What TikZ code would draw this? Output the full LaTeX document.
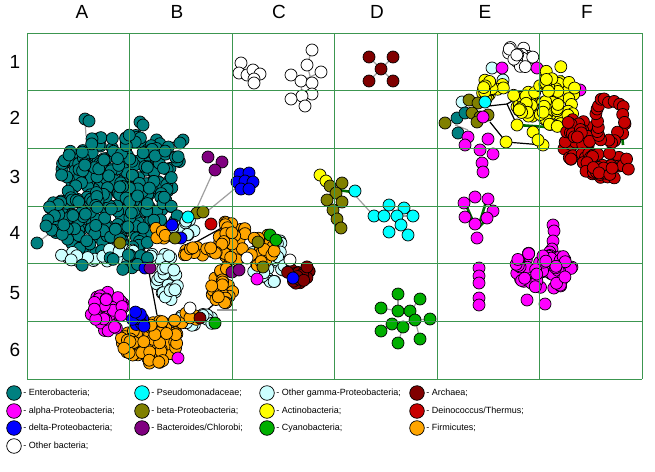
\documentclass[tikz,border=0pt]{standalone}
\usepackage{fontspec}
\setmainfont{Liberation Sans}
\usepackage{xcolor}
\usetikzlibrary{positioning}

\definecolor{entero}{RGB}{0,128,128}
\definecolor{alphap}{RGB}{255,0,255}
\definecolor{deltap}{RGB}{0,0,255}
\definecolor{pseudo}{RGB}{0,255,255}
\definecolor{betap}{RGB}{128,128,0}
\definecolor{bactero}{RGB}{128,0,128}
\definecolor{ogamma}{RGB}{204,255,255}
\definecolor{actino}{RGB}{255,255,0}
\definecolor{cyano}{RGB}{0,175,0}
\definecolor{archaea}{RGB}{128,0,0}
\definecolor{deino}{RGB}{200,0,0}
\definecolor{firmi}{RGB}{255,165,0}
\definecolor{gridgreen}{RGB}{60,150,80}
\definecolor{linkgreen}{RGB}{0,110,0}

\tikzset{
	bac/.style={draw=black,line width=0.7pt},
	weak/.style={draw=gray!75,line width=1.2pt},
	strong/.style={draw=black,line width=1.2pt},
	heavy/.style={draw=linkgreen,line width=2.6pt},
	gridline/.style={draw=gridgreen,line width=1pt},
	head/.style={font=\fontsize{19}{22}\selectfont},
	keydot/.style={circle,draw=black,line width=0.7pt,minimum size=14.6pt,inner sep=0pt},
	key/.style={anchor=west,inner sep=0pt,font=\fontsize{9}{10}\selectfont},
}

% a random cloud of organisms: centre x, centre y, radius x, radius y, count, colour
\newcommand{\bacblob}[6]{%
	\foreach \k in {1,...,#5}{
		\pgfmathsetmacro\bang{360*rnd}
		\pgfmathsetmacro\brad{sqrt(rnd)}
		\draw[bac,fill=#6] ({#1+#3*\brad*cos(\bang)},{#2+#4*\brad*sin(\bang)}) circle (6);
	}}
% a ring of organisms: centre x, centre y, radius x, radius y, count, colour
\newcommand{\bacring}[6]{%
	\foreach \k in {1,...,#5}{
		\pgfmathsetmacro\bang{360*\k/#5}
		\draw[bac,fill=#6] ({#1+#3*cos(\bang)+3*rand},{#2+#4*sin(\bang)+3*rand}) circle (6);
	}}

\begin{document}
\begin{tikzpicture}[x=1pt,y=-1pt]
		\useasboundingbox (0,0) rectangle (655,471);
		\pgfmathsetseed{4}
		
		% Link ends between clusters
		\coordinate (ent-top1) at (85,119);
		\coordinate (ent-top2) at (140,122);
		\coordinate (ent-right) at (183,140);
		\coordinate (ent-left) at (37,243);
		\coordinate (ent-body1) at (86,136);
		\coordinate (ent-body2) at (138,136);
		\coordinate (ent-body3) at (170,143);
		\coordinate (ent-body4) at (62,224);
		\coordinate (bact-b3) at (214,170);
		\coordinate (delta-c3) at (243,182);
		\coordinate (mix-b4a) at (195,212);
		\coordinate (mix-b4b) at (204,214);
		\coordinate (beta-d3) at (352,192);
		\coordinate (pseudo-d4) at (374,216);
		
		% Weak links (grey)
		\draw[weak] (ent-top1) -- (ent-body1);
		\draw[weak] (ent-top2) -- (ent-body2);
		\draw[weak] (ent-left) -- (ent-body4);
		\draw[weak] (bact-b3) -- (mix-b4a);
		\draw[weak] (delta-c3) -- (mix-b4b);
		\draw[weak] (beta-d3) -- (pseudo-d4);
		\draw[weak] (312,50) -- (307,65) -- (312,83) -- (312,94);
		\draw[weak] (291,75) -- (301,81) -- (321,72);
		\draw[weak] (301,81) -- (302,96);
		\foreach \x/\y in {369/57,393/57,369/81,393/81}
			\draw[weak] (381,69) -- (\x,\y);
		\draw[weak] (384,216) -- (397,216) -- (389,205);
		\draw[weak] (397,216) -- (404,208);
		\draw[weak] (397,216) -- (413,216);
		\draw[weak] (397,216) -- (401,225) -- (389,232);
		\draw[weak] (401,225) -- (408,235);
		\draw[weak] (398,294) -- (398,311);
		\draw[weak] (381,308) -- (398,311) -- (410,311) -- (420,299);
		\draw[weak] (410,311) -- (415,320) -- (430,319);
		\draw[weak] (415,320) -- (403,327) -- (392,324) -- (381,331);
		\draw[weak] (403,327) -- (398,343);
		\draw[weak] (415,320) -- (420,339);
		\draw[weak] (455,125) -- (468,130);
		\draw[weak] (217,310) -- (237,310);
		
		% Strong links (black)
		\draw[strong] (ent-body3) -- (ent-right);
		\draw[strong] (149,272) -- (157,315);
		\draw[strong] (187,247) -- (227,225);
		\draw[strong] (205,312) -- (228,292);
		\draw[strong] (470,108) -- (507,104) -- (517,125);
		\draw[strong] (490,122) -- (506,142) -- (543,145);
		\draw[strong] (507,104) -- (535,88);
		\draw[strong] (145,342) -- (162,330);
		
		% Heavy links (dark green)
		\draw[heavy] (338,190) -- (352,192);
		\draw[heavy] (148,350) -- (162,340);
		\draw[heavy] (466,205) -- (476,228);
		\draw[heavy] (486,202) -- (478,228);
		\draw[heavy] (492,214) -- (478,228);
		\draw[heavy] (517,125) -- (547,127);
		\draw[heavy] (547,86) -- (563,76);
		\draw[heavy] (598,112) -- (604,140);
		\draw[heavy] (620,116) -- (623,145);
		
		% Enterobacteria, A2--B4
		\bacblob{122}{168}{62}{34}{175}{entero}
		\bacblob{112}{218}{68}{36}{205}{entero}
		\foreach \x/\y in {85/119,89/121,140/122,143/125,183/140,180/143,48/220,46/226,37/243}
			\draw[bac,fill=entero] (\x,\y) circle (6);
		
		% Other gamma-Proteobacteria, B4--C5
		\bacblob{118}{256}{62}{7}{34}{ogamma}
		\bacblob{120}{263}{50}{9}{12}{entero}
		\bacblob{168}{285}{12}{18}{24}{ogamma}
		\bacblob{183}{228}{12}{10}{14}{ogamma}
		\bacblob{268}{258}{18}{26}{30}{ogamma}
		\bacblob{198}{320}{22}{7}{12}{ogamma}
		
		% Firmicutes, B4--C6
		\bacblob{232}{238}{14}{24}{38}{firmi}
		\bacblob{262}{250}{13}{17}{18}{firmi}
		\bacblob{200}{252}{18}{7}{14}{firmi}
		\bacblob{222}{287}{11}{21}{24}{firmi}
		\bacblob{161}{232}{7}{9}{6}{firmi}
		\bacblob{150}{342}{29}{23}{70}{firmi}
		\bacblob{183}{318}{16}{5}{7}{firmi}
		
		% Mixed organisms in the B4--C6 region
		\bacblob{298}{274}{12}{11}{18}{archaea}
		\bacblob{140}{318}{9}{13}{9}{deltap}
		\foreach \x/\y in {172/225,181/238,293/278,145/268}
			\draw[bac,fill=deltap] (\x,\y) circle (6);
		\foreach \x/\y in {120/243,175/238,258/242,263/267,197/213,203/212}
			\draw[bac,fill=betap] (\x,\y) circle (6);
		\foreach \x/\y in {232/272,239/270,150/268}
			\draw[bac,fill=bactero] (\x,\y) circle (6);
		\foreach \x/\y in {270/235,276/240,215/323}
			\draw[bac,fill=cyano] (\x,\y) circle (6);
		\foreach \x/\y in {247/258,290/260,190/308}
			\draw[bac,fill=white] (\x,\y) circle (6);
		\foreach \x/\y in {178/358,257/279}
			\draw[bac,fill=alphap] (\x,\y) circle (6);
		\draw[bac,fill=pseudo] (188,217) circle (6);
		\draw[bac,fill=deino] (211,224) circle (6);
		\draw[bac,fill=archaea] (200,318) circle (6);
		
		% Bacteroides/Chlorobi, B3 and delta-Proteobacteria, C3
		\foreach \x/\y in {208/157,222/162,215/170}
			\draw[bac,fill=bactero] (\x,\y) circle (6);
		\foreach \x/\y in {240/174,249/173,237/182,245/181,253/182,241/189,249/189}
			\draw[bac,fill=deltap] (\x,\y) circle (6);
		
		% alpha-Proteobacteria, A5
		\bacblob{108}{312}{17}{20}{40}{alphap}
		
		% Other bacteria, C1
		\foreach \x/\y in {241/63,239/73,247/75,253/70,260/74,254/79,254/83}
			\draw[bac,fill=white] (\x,\y) circle (6);
		\foreach \x/\y in {312/50,307/65,321/72,291/75,301/81,312/83,312/94,302/96,291/99,305/106}
			\draw[bac,fill=white] (\x,\y) circle (6);
		
		% Archaea, D1
		\foreach \x/\y in {369/57,393/57,381/69,369/81,393/81}
			\draw[bac,fill=archaea] (\x,\y) circle (6);
		
		% beta-Proteobacteria and Pseudomonadaceae, D3--D4
		\foreach \x/\y in {320/175,326/181}
			\draw[bac,fill=actino] (\x,\y) circle (6);
		\foreach \x/\y in {330/186,342/183,336/193,327/200,342/202,333/210,337/219,341/228}
			\draw[bac,fill=betap] (\x,\y) circle (6);
		\foreach \x/\y in {355/191,374/216,384/216,389/205,404/208,397/216,413/216,401/225,389/232,408/235}
			\draw[bac,fill=pseudo] (\x,\y) circle (6);
		
		% Cyanobacteria, D5
		\foreach \x/\y in {398/294,420/299,381/308,398/311,410/311,415/320,430/319,392/324,403/327,381/331,420/339,398/343}
			\draw[bac,fill=cyano] (\x,\y) circle (6);
		
		% E1--F3: other bacteria, Actinobacteria and Deinococcus/Thermus
		\bacblob{518}{58}{16}{12}{16}{white}
		\foreach \x/\y in {492/68,503/80,462/102}
			\draw[bac,fill=ogamma] (\x,\y) circle (6);
		\foreach \x/\y in {502/68,537/68,580/90}
			\draw[bac,fill=alphap] (\x,\y) circle (6);
		\bacblob{493}{88}{13}{14}{18}{actino}
		\bacblob{527}{103}{16}{15}{26}{actino}
		\bacblob{557}{98}{20}{32}{52}{actino}
		\foreach \x/\y in {517/125,506/142,543/145,533/132,538/140}
			\draw[bac,fill=actino] (\x,\y) circle (6);
		\bacblob{578}{140}{17}{22}{45}{deino}
		\bacring{609}{120}{14}{20}{22}{deino}
		\bacblob{606}{166}{24}{14}{36}{deino}
		
		% E2--E3: beta-Proteobacteria, Enterobacteria and alpha-Proteobacteria
		\foreach \x/\y in {457/118,465/113,458/133}
			\draw[bac,fill=entero] (\x,\y) circle (6);
		\foreach \x/\y in {445/123,469/100,478/103,472/113,480/117,488/115,477/122}
			\draw[bac,fill=betap] (\x,\y) circle (6);
		\draw[bac,fill=pseudo] (485,102) circle (6);
		\foreach \x/\y in {483/117,468/137,488/139,480/150,465/145,493/154,482/163,483/172}
			\draw[bac,fill=alphap] (\x,\y) circle (6);
		
		% alpha-Proteobacteria, E4, E5 and F4--F5
		\foreach \x/\y in {475/197,488/199,464/203,493/211,465/217,487/218,475/224,477/238}
			\draw[bac,fill=alphap] (\x,\y) circle (6);
		\foreach \y in {268,276,283,298,305}
			\draw[bac,fill=alphap] (479,\y) circle (6);
		\foreach \x/\y in {553/225,554/231,553/241,552/249,527/300,545/304}
			\draw[bac,fill=alphap] (\x,\y) circle (6);
		\bacblob{543}{270}{30}{20}{62}{alphap}
		
		% The grid
		\foreach \i in {0,...,6}
			\draw[gridline] (27+102.5*\i,33) -- (27+102.5*\i,379);
		\foreach \j in {0,...,6}
			\draw[gridline] (27,33+57.667*\j) -- (642,33+57.667*\j);
		
		% Column and row labels
		\foreach \x/\c in {82/A,177/B,279/C,377/D,485/E,587/F}
			\node[head] (col-\c) at (\x,12) {\c};
		\foreach \y/\r in {62/1,118/2,177/3,233/4,293/5,350/6}
			\node[head] (row-\r) at (15,\y) {\r};
		
		% Legend
		\node[keydot,fill=entero] (d-entero) at (14,393) {};
		\node[key,right=1.5pt of d-entero] {- Enterobacteria;};
		\node[keydot,fill=alphap] (d-alpha) at (14,411) {};
		\node[key,right=1.5pt of d-alpha] {- alpha-Proteobacteria;};
		\node[keydot,fill=deltap] (d-delta) at (14,428) {};
		\node[key,right=1.5pt of d-delta] {- delta-Proteobacteria;};
		\node[keydot,fill=white] (d-other) at (14,446) {};
		\node[key,right=1.5pt of d-other] {- Other bacteria;};
		\node[keydot,fill=pseudo] (d-pseudo) at (142,393) {};
		\node[key,right=1.5pt of d-pseudo] {- Pseudomonadaceae;};
		\node[keydot,fill=betap] (d-beta) at (142,411) {};
		\node[key,right=1.5pt of d-beta] {- beta-Proteobacteria;};
		\node[keydot,fill=bactero] (d-bactero) at (142,428) {};
		\node[key,right=1.5pt of d-bactero] {- Bacteroides/Chlorobi;};
		\node[keydot,fill=ogamma] (d-ogamma) at (267,393) {};
		\node[key,right=1.5pt of d-ogamma] {- Other gamma-Proteobacteria;};
		\node[keydot,fill=actino] (d-actino) at (267,411) {};
		\node[key,right=1.5pt of d-actino] {- Actinobacteria;};
		\node[keydot,fill=cyano] (d-cyano) at (267,428) {};
		\node[key,right=1.5pt of d-cyano] {- Cyanobacteria;};
		\node[keydot,fill=archaea] (d-archaea) at (417,393) {};
		\node[key,right=1.5pt of d-archaea] {- Archaea;};
		\node[keydot,fill=deino] (d-deino) at (417,411) {};
		\node[key,right=1.5pt of d-deino] {- Deinococcus/Thermus;};
		\node[keydot,fill=firmi] (d-firmi) at (417,428) {};
		\node[key,right=1.5pt of d-firmi] {- Firmicutes;};
		
	\end{tikzpicture}
\end{document}
